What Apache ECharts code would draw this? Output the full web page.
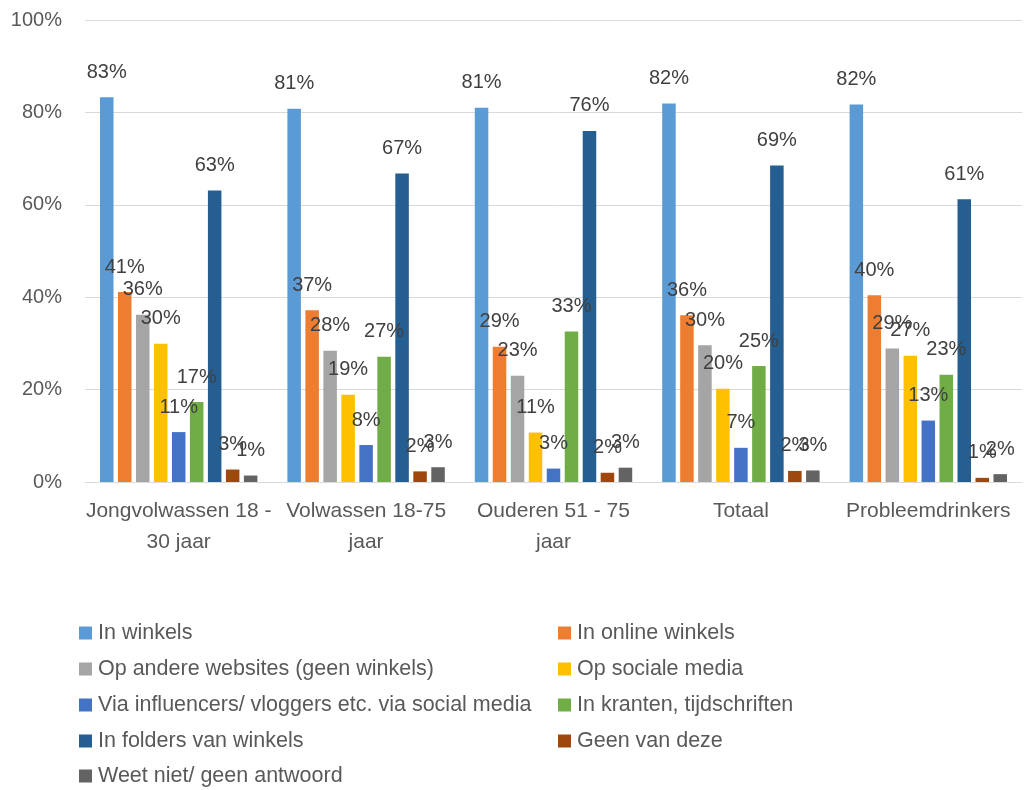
<!DOCTYPE html>
<html>
<head>
<meta charset="utf-8">
<script src="https://cdn.jsdelivr.net/npm/echarts@6/dist/echarts.min.js"></script>
<style>html,body{margin:0;padding:0;background:#fff;}#c{width:1025px;height:790px;}</style>
</head>
<body>
<div id="c"></div>
<script>
const categories = ['Jongvolwassen 18 -\n30 jaar', 'Volwassen 18-75\njaar', 'Ouderen 51 - 75\njaar', 'Totaal', 'Probleemdrinkers'];
const seriesNames = ['In winkels', 'In online winkels', 'Op andere websites (geen winkels)', 'Op sociale media', 'Via influencers/ vloggers etc. via social media', 'In kranten, tijdschriften', 'In folders van winkels', 'Geen van deze', 'Weet niet/ geen antwoord'];
const inWinkels = [83.3, 80.8, 81.0, 81.9, 81.7];
const inOnlineWinkels = [41.1, 37.2, 29.3, 36.1, 40.4];
const opAndereWebsites = [36.2, 28.4, 23.0, 29.6, 28.9];
const opSocialeMedia = [29.9, 18.9, 10.7, 20.2, 27.3];
const viaInfluencers = [10.8, 8.0, 2.9, 7.4, 13.3];
const inKranten = [17.3, 27.1, 32.6, 25.1, 23.2];
const inFolders = [63.1, 66.8, 76.0, 68.5, 61.2];
const geenVanDeze = [2.7, 2.3, 2.0, 2.4, 0.9];
const weetNiet = [1.4, 3.2, 3.1, 2.5, 1.7];
const yTicks = [0, 20, 40, 60, 80, 100];

const seriesData = [inWinkels, inOnlineWinkels, opAndereWebsites, opSocialeMedia, viaInfluencers, inKranten, inFolders, geenVanDeze, weetNiet];
const colors = ['#5B9BD5', '#ED7D31', '#A5A5A5', '#FFC000', '#4472C4', '#70AD47', '#255E91', '#9E480E', '#636363'];
const FONT = 'Liberation Sans';

// legend layout: two columns, row by row
const rowCenters = [633, 669, 705, 741, 776];
const colLefts = [79, 558];
const legends = seriesNames.map((name, i) => ({
  type: 'plain',
  orient: 'horizontal',
  left: colLefts[i % 2],
  top: rowCenters[Math.floor(i / 2)] - 11,
  padding: 0,
  itemWidth: 13, itemHeight: 13,
  icon: 'rect',
  selectedMode: false,
  data: [name],
  textStyle: {fontFamily: FONT, fontSize: 21.5, color: '#595959', lineHeight: 22, padding: [0, 0, 0, 1]}
}));

const chart = echarts.init(document.getElementById('c'), null, {renderer: 'canvas'});
chart.setOption({
  animation: false,
  color: colors,
  textStyle: {fontFamily: FONT},
  grid: {left: 85, right: 3, top: 20, bottom: 308, containLabel: false},
  legend: legends,
  xAxis: {
    type: 'category',
    data: categories,
    axisLine: {lineStyle: {color: '#D9D9D9', width: 1}},
    axisTick: {show: false},
    axisLabel: {fontFamily: FONT, fontSize: 21, color: '#595959', lineHeight: 31, margin: 14, interval: 0}
  },
  yAxis: {
    type: 'value',
    min: yTicks[0], max: yTicks[yTicks.length - 1], interval: 20,
    axisLine: {show: false},
    axisTick: {show: false},
    splitLine: {lineStyle: {color: '#D9D9D9', width: 1}},
    axisLabel: {fontFamily: FONT, fontSize: 20, color: '#595959', margin: 23, formatter: v => v + '%'}
  },
  series: seriesData.map((d, i) => ({
    name: seriesNames[i],
    type: 'bar',
    data: d,
    barGap: '33%',
    barCategoryGap: '16%',
    label: {
      show: true, position: 'top', distance: 15,
      fontFamily: FONT, fontSize: 20, color: '#404040',
      formatter: p => Math.round(p.value) + '%'
    }
  }))
});
</script>
</body>
</html>
